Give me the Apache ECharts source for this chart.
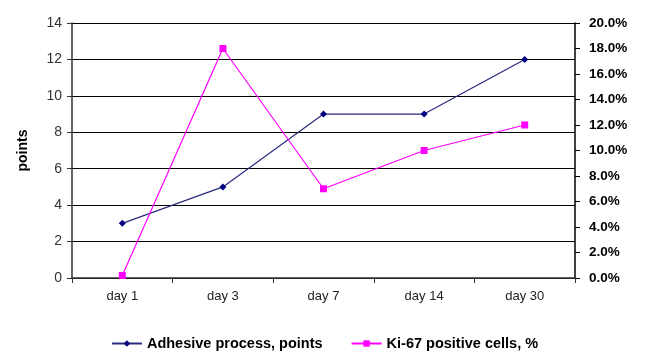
<!DOCTYPE html>
<html>
<head>
<meta charset="utf-8">
<script src="https://cdn.jsdelivr.net/npm/echarts@6/dist/echarts.min.js"></script>
<style>html,body{margin:0;padding:0;background:#fff;}#c{width:649px;height:356px;}</style>
</head>
<body>
<div id="c"></div>
<script>
const categories = ['day 1', 'day 3', 'day 7', 'day 14', 'day 30'];
const adhesive = [3, 5, 9, 9, 12];
const ki67 = [0.2, 18, 7, 10, 12];
const seriesNames = ['Adhesive process, points', 'Ki-67 positive cells, %'];

const chart = echarts.init(document.getElementById('c'));
chart.setOption({
  animation: false,
  backgroundColor: '#fff',
  textStyle: { fontFamily: 'Liberation Sans, Arial, sans-serif' },
  grid: { left: 72, right: 74, top: 23, bottom: 78 },
  legend: {
    top: 336,
    left: 'center',
    padding: 0,
    itemWidth: 30,
    itemHeight: 8,
    itemGap: 28,
    textStyle: { fontSize: 14.5, fontWeight: 'bold', color: '#000' },
    data: seriesNames
  },
  xAxis: {
    type: 'category',
    data: categories,
    boundaryGap: true,
    axisLine: { lineStyle: { color: '#333', width: 1.5 } },
    axisTick: { show: true, length: 5, lineStyle: { color: '#333' } },
    axisLabel: { fontSize: 13, color: '#222', margin: 12 }
  },
  yAxis: [
    {
      type: 'value', min: 0, max: 14, interval: 2,
      name: 'points', nameLocation: 'middle', nameGap: 42, nameRotate: 90,
      nameTextStyle: { fontSize: 14, fontWeight: 'bold', color: '#000' },
      axisLine: { show: true, lineStyle: { color: '#333', width: 1.5 } },
      axisTick: { show: true, length: 5, lineStyle: { color: '#333' } },
      axisLabel: { fontSize: 14, color: '#333', margin: 10 },
      splitLine: { show: true, lineStyle: { color: '#000', width: 1 } }
    },
    {
      type: 'value', min: 0, max: 20, interval: 2, position: 'right',
      axisLine: { show: true, lineStyle: { color: '#000', width: 1.5 } },
      axisTick: { show: true, length: 5, inside: false, lineStyle: { color: '#000' } },
      axisLabel: { fontSize: 13.5, fontWeight: 'bold', color: '#000', margin: 14,
        formatter: v => v.toFixed(1) + '%' },
      splitLine: { show: false }
    }
  ],
  series: [
    {
      name: seriesNames[0], type: 'line', yAxisIndex: 0, data: adhesive,
      symbol: 'diamond', symbolSize: 7,
      lineStyle: { color: '#2a2a7e', width: 1.2 },
      itemStyle: { color: '#000080' }
    },
    {
      name: seriesNames[1], type: 'line', yAxisIndex: 1, data: ki67,
      symbol: 'rect', symbolSize: 7,
      lineStyle: { color: '#ff00ff', width: 1.2 },
      itemStyle: { color: '#ff00ff' }
    }
  ]
});
</script>
</body>
</html>
